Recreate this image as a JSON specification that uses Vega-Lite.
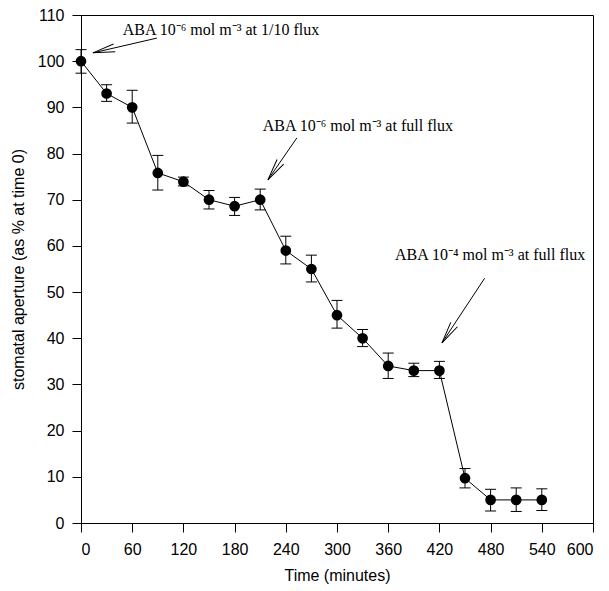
{
  "$schema": "https://vega.github.io/schema/vega-lite/v6.json",
  "width": 512,
  "height": 508,
  "autosize": {"type": "none"},
  "padding": {"left": 81, "top": 15, "right": 16, "bottom": 68},
  "background": "white",
  "config": {
    "view": {"stroke": "black", "strokeWidth": 1},
    "axis": {
      "grid": false,
      "domainColor": "black",
      "domainWidth": 1,
      "tickColor": "black",
      "tickWidth": 1,
      "tickSize": 9,
      "labelFont": "Liberation Sans",
      "labelFontSize": 16,
      "labelColor": "black",
      "titleFont": "Liberation Sans",
      "titleFontSize": 16,
      "titleFontWeight": "normal",
      "titleColor": "black"
    }
  },
  "datasets": {
    "pts": [
      {"t": 0, "v": 100, "lo": 97.4, "hi": 102.5},
      {"t": 30, "v": 93, "lo": 91.3, "hi": 94.9},
      {"t": 60, "v": 90, "lo": 86.6, "hi": 93.7},
      {"t": 90, "v": 75.8, "lo": 72.1, "hi": 79.6},
      {"t": 120, "v": 73.9, "lo": 73.0, "hi": 74.9},
      {"t": 150, "v": 70, "lo": 68.0, "hi": 72.0},
      {"t": 180, "v": 68.6, "lo": 66.6, "hi": 70.5},
      {"t": 210, "v": 70, "lo": 67.8, "hi": 72.3},
      {"t": 240, "v": 59, "lo": 56.1, "hi": 62.1},
      {"t": 270, "v": 55, "lo": 52.2, "hi": 58.0},
      {"t": 300, "v": 45, "lo": 42.2, "hi": 48.2},
      {"t": 330, "v": 40, "lo": 38.2, "hi": 41.9},
      {"t": 360, "v": 34, "lo": 31.3, "hi": 36.8},
      {"t": 390, "v": 33, "lo": 31.7, "hi": 34.6},
      {"t": 420, "v": 33, "lo": 31.3, "hi": 35.0},
      {"t": 450, "v": 9.7, "lo": 7.6, "hi": 11.8},
      {"t": 480, "v": 5, "lo": 2.6, "hi": 7.3},
      {"t": 510, "v": 5, "lo": 2.5, "hi": 7.6},
      {"t": 540, "v": 5, "lo": 2.7, "hi": 7.4}
    ],
    "notes": [
      {"label": "ABA 10⁻⁶ mol m⁻³ at 1/10 flux", "tx": 49, "ty": 105.7, "x1": 89, "y1": 105.0, "x2": 14, "y2": 101.8, "ang": 257},
      {"label": "ABA 10⁻⁶ mol m⁻³ at full flux", "tx": 213, "ty": 84.9, "x1": 253, "y1": 83.4, "x2": 219, "y2": 74.3, "ang": 214.6},
      {"label": "ABA 10⁻⁴ mol m⁻³ at full flux", "tx": 368, "ty": 57.0, "x1": 473, "y1": 53.0, "x2": 423, "y2": 39.0, "ang": 213.5}
    ]
  },
  "layer": [
    {
      "data": {"name": "pts"},
      "mark": {"type": "rule", "color": "black", "strokeWidth": 1},
      "encoding": {
        "x": {"field": "t", "type": "quantitative", "scale": {"domain": [0, 600], "nice": false},
          "axis": {"values": [0, 60, 120, 180, 240, 300, 360, 420, 480, 540, 600], "title": "Time (minutes)", "labelPadding": 9, "titlePadding": 10}},
        "y": {"field": "lo", "type": "quantitative", "scale": {"domain": [0, 110], "nice": false},
          "axis": {"values": [0, 10, 20, 30, 40, 50, 60, 70, 80, 90, 100, 110], "title": "stomatal aperture (as % at time 0)", "labelPadding": 8, "titlePadding": 11}},
        "y2": {"field": "hi"}
      }
    },
    {
      "data": {"name": "pts"},
      "mark": {"type": "tick", "orient": "horizontal", "size": 11, "thickness": 1, "color": "black", "opacity": 1},
      "encoding": {
        "x": {"field": "t", "type": "quantitative"},
        "y": {"field": "lo", "type": "quantitative"}
      }
    },
    {
      "data": {"name": "pts"},
      "mark": {"type": "tick", "orient": "horizontal", "size": 11, "thickness": 1, "color": "black", "opacity": 1},
      "encoding": {
        "x": {"field": "t", "type": "quantitative"},
        "y": {"field": "hi", "type": "quantitative"}
      }
    },
    {
      "data": {"name": "pts"},
      "mark": {"type": "line", "color": "black", "strokeWidth": 1},
      "encoding": {
        "x": {"field": "t", "type": "quantitative"},
        "y": {"field": "v", "type": "quantitative"}
      }
    },
    {
      "data": {"name": "pts"},
      "mark": {"type": "point", "shape": "circle", "filled": true, "color": "black", "size": 115, "opacity": 1},
      "encoding": {
        "x": {"field": "t", "type": "quantitative"},
        "y": {"field": "v", "type": "quantitative"}
      }
    },
    {
      "data": {"name": "notes"},
      "mark": {"type": "rule", "color": "black", "strokeWidth": 1},
      "encoding": {
        "x": {"field": "x1", "type": "quantitative"},
        "y": {"field": "y1", "type": "quantitative"},
        "x2": {"field": "x2"},
        "y2": {"field": "y2"}
      }
    },
    {
      "data": {"name": "notes"},
      "mark": {"type": "point", "shape": "M -0.4 2.2 L 0 0 L 0.4 2.2", "filled": false, "stroke": "black", "strokeWidth": 1, "size": 400, "opacity": 1},
      "encoding": {
        "x": {"field": "x2", "type": "quantitative"},
        "y": {"field": "y2", "type": "quantitative"},
        "angle": {"field": "ang", "type": "quantitative", "scale": null}
      }
    },
    {
      "data": {"name": "notes"},
      "mark": {"type": "text", "align": "left", "baseline": "alphabetic", "font": "Liberation Serif", "fontSize": 16, "color": "black"},
      "encoding": {
        "x": {"field": "tx", "type": "quantitative"},
        "y": {"field": "ty", "type": "quantitative"},
        "text": {"field": "label"}
      }
    }
  ]
}
